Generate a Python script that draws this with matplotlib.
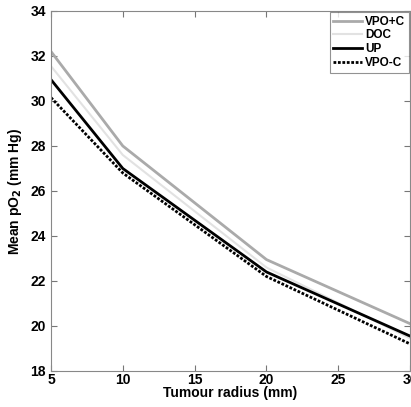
import matplotlib
matplotlib.use('Agg')
import matplotlib.pyplot as plt

# tumour radius (mm) and mean pO2 (mm Hg)
radius = [5, 10, 20, 30]
vpo_plus_c = [32.2, 28.0, 22.95, 20.1]
doc = [31.55, 27.6, 22.6, 19.45]
up = [30.95, 27.0, 22.4, 19.55]
vpo_minus_c = [30.15, 26.8, 22.2, 19.2]

plt.rcParams['font.family'] = ['Liberation Sans', 'DejaVu Sans']
plt.rcParams['font.weight'] = 'bold'

fig = plt.figure(figsize=(4.11, 4.07), dpi=100)
ax = fig.add_axes([0.124, 0.0885, 0.874, 0.8845])

ax.plot(radius, vpo_plus_c, color='#aaaaaa', lw=2, label='VPO+C')
ax.plot(radius, doc, color='#e2e2e2', lw=1.5, label='DOC')
ax.plot(radius, up, color='black', lw=2, label='UP')
ax.plot(radius, vpo_minus_c, color='black', lw=2, ls=(0, (1, 0.6)), label='VPO-C')

ax.set_xlim(5, 30)
ax.set_ylim(18, 34)
ax.set_xticks([5, 10, 15, 20, 25, 30])
ax.set_xticklabels(['5', '10', '15', '20', '25', '30'])
ax.set_yticks(range(18, 35, 2))
ax.tick_params(direction='in', top=True, right=True, labelsize=10, length=4,
               color='#777777')
ax.tick_params(axis='x', pad=1.5)
for s in ax.spines.values():
    s.set_color('#888888')

ax.set_xlabel('Tumour radius (mm)', fontsize=10, fontweight='bold', labelpad=-1)
ax.set_ylabel('Mean pO$_\\mathbf{2}$ (mm Hg)', fontsize=10, fontweight='bold', labelpad=5)

leg = ax.legend(loc='upper right', fontsize=8.5, frameon=True, fancybox=False,
                borderpad=0.3, labelspacing=0.15, handlelength=2.4, handletextpad=0.3,
                borderaxespad=0.1)
leg.get_frame().set_edgecolor('#777777')
leg.get_frame().set_linewidth(0.8)

fig.savefig('out.png', dpi=100)
